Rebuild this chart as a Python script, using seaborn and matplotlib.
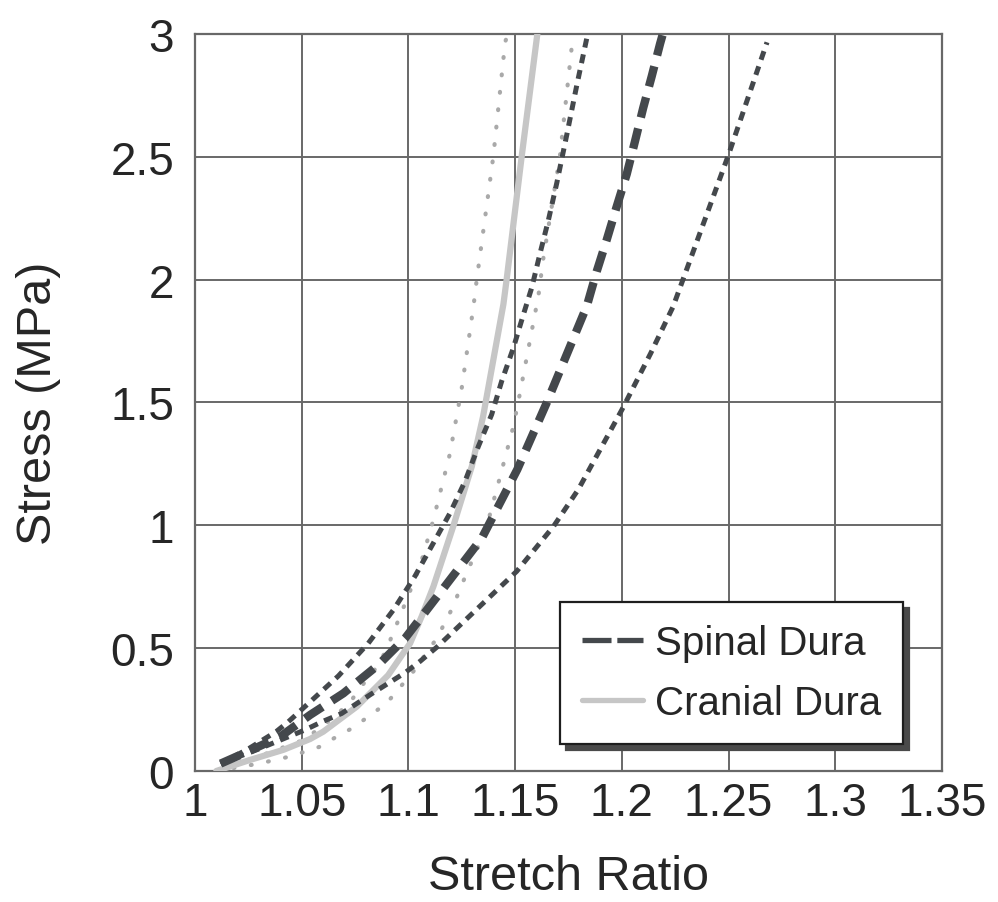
import matplotlib
matplotlib.use("Agg")
import matplotlib.pyplot as plt
import seaborn as sns
import pandas as pd
from matplotlib.lines import Line2D

# ---------------- data ----------------
spinal_a_x = [1.012, 1.025, 1.038, 1.0437, 1.0515, 1.0672, 1.0812, 1.093, 1.103,
              1.1195, 1.1265, 1.1328, 1.139, 1.1437, 1.1492, 1.1539, 1.1578,
              1.1617, 1.1656, 1.1695, 1.1742, 1.1789, 1.1836, 1.184]
spinal_a_y = [0.03, 0.09, 0.16, 0.2, 0.262, 0.387, 0.52, 0.656, 0.792,
              1.05, 1.179, 1.322, 1.451, 1.587, 1.723, 1.859, 1.968,
              2.108, 2.243, 2.393, 2.59, 2.792, 2.984, 3.0]

spinal_b_x = [1.012, 1.025, 1.04, 1.0539, 1.0695, 1.0859, 1.0984, 1.113, 1.1344,
              1.151, 1.1648, 1.1836, 1.1882, 1.1929, 1.1976, 1.2023, 1.2062,
              1.21, 1.214, 1.2179, 1.2192]
spinal_b_y = [0.03, 0.08, 0.14, 0.228, 0.316, 0.432, 0.54, 0.705, 0.948,
              1.227, 1.499, 1.893, 2.033, 2.162, 2.298, 2.43, 2.565,
              2.699, 2.828, 2.96, 3.0]

spinal_c_x = [1.012, 1.03, 1.0515, 1.0594, 1.0687, 1.082, 1.0984, 1.1054, 1.1133,
              1.1507, 1.168, 1.1796, 1.2, 1.2135, 1.224, 1.2498, 1.268]
spinal_c_y = [0.03, 0.09, 0.167, 0.2, 0.234, 0.31, 0.40, 0.446, 0.504,
              0.8125, 0.996, 1.146, 1.47, 1.70, 1.89, 2.504, 2.966]

cranial_d_x = [1.01, 1.0258, 1.0414, 1.0539, 1.0601, 1.0758, 1.0905, 1.1008,
               1.1062, 1.1117, 1.121, 1.1297, 1.135, 1.1445, 1.146, 1.1531, 1.1604]
cranial_d_y = [0.0, 0.045, 0.086, 0.13, 0.16, 0.262, 0.39, 0.52,
               0.629, 0.751, 0.996, 1.24, 1.444, 1.9, 2.0, 2.504, 3.0]

cranial_e_x = [1.01, 1.03, 1.0508, 1.0594, 1.068, 1.0734, 1.0797, 1.086, 1.0898,
               1.096, 1.1054, 1.1117, 1.1195, 1.125, 1.1305, 1.132, 1.1398,
               1.1453, 1.1465]
cranial_e_y = [0.0, 0.06, 0.126, 0.18, 0.242, 0.289, 0.364, 0.432, 0.497,
               0.629, 0.833, 1.023, 1.294, 1.56, 1.893, 2.0, 2.504,
               2.966, 3.0]

cranial_f_x = [1.01, 1.03, 1.045, 1.0586, 1.0664, 1.0734, 1.0812, 1.0898, 1.1023,
               1.1078, 1.1133, 1.121, 1.124, 1.1367, 1.143, 1.1492, 1.1523,
               1.1609, 1.1632, 1.171, 1.1765, 1.177]
cranial_f_y = [0.0, 0.03, 0.06, 0.099, 0.14, 0.173, 0.221, 0.276, 0.405,
               0.473, 0.54, 0.67, 0.738, 0.996, 1.2, 1.404, 1.54,
               1.934, 2.086, 2.504, 2.946, 3.0]

x_ticks = [1.0, 1.05, 1.1, 1.15, 1.2, 1.25, 1.3, 1.35]
x_tick_labels = ["1", "1.05", "1.1", "1.15", "1.2", "1.25", "1.3", "1.35"]
y_ticks = [0, 0.5, 1, 1.5, 2, 2.5, 3]
y_tick_labels = ["0", "0.5", "1", "1.5", "2", "2.5", "3"]
legend_labels = ["Spinal Dura", "Cranial Dura"]

# ---------------- styling ----------------
sns.set_theme(style="white")
plt.rcParams["font.family"] = ["Liberation Sans", "DejaVu Sans"]

DARK = "#44484c"
LIGHT = "#c6c6c6"
DOT = "#a9a9a9"
GRID = "#686868"
TEXT = "#262626"

fig = plt.figure(figsize=(9.98, 9.03), dpi=100)
ax = fig.add_axes([0.1954, 0.1451, 0.7485, 0.8162])


def draw(xs, ys, **kw):
    df = pd.DataFrame({"x": xs, "y": ys})
    sns.lineplot(data=df, x="x", y="y", ax=ax, sort=False, estimator=None,
                 legend=False, **kw)


# cranial (light) curves
draw(cranial_e_x, cranial_e_y, color=DOT, lw=3.0,
     linestyle=(0, (0.2, 4.0)), dash_capstyle="round", zorder=3)
draw(cranial_f_x, cranial_f_y, color=DOT, lw=3.0,
     linestyle=(0, (0.2, 4.0)), dash_capstyle="round", zorder=3)
draw(cranial_d_x, cranial_d_y, color=LIGHT, lw=4.5, zorder=3)

# spinal (dark) curves
draw(spinal_a_x, spinal_a_y, color=DARK, lw=3.6,
     linestyle=(0, (1.8, 1.4)), dash_capstyle="butt", zorder=4)
draw(spinal_c_x, spinal_c_y, color=DARK, lw=3.6,
     linestyle=(0, (1.8, 1.4)), dash_capstyle="butt", zorder=4)
draw(spinal_b_x, spinal_b_y, color=DARK, lw=6.0,
     linestyle=(0, (2.5, 1.35)), dash_capstyle="butt", zorder=4)

ax.set_xlim(1.0, 1.35)
ax.set_ylim(0, 3)
ax.set_xticks(x_ticks)
ax.set_xticklabels(x_tick_labels)
ax.set_yticks(y_ticks)
ax.set_yticklabels(y_tick_labels)
ax.tick_params(axis="both", length=0, labelsize=33, colors=TEXT)
ax.tick_params(axis="x", pad=7)
ax.tick_params(axis="y", pad=15)

ax.set_axisbelow(True)
ax.grid(True, color=GRID, lw=1.4)
for sp in ax.spines.values():
    sp.set_color(GRID)
    sp.set_linewidth(1.6)

ax.set_xlabel("Stretch Ratio", fontsize=35, color=TEXT)
ax.set_ylabel("Stress (MPa)", fontsize=35, color=TEXT)
ax.xaxis.set_label_coords(0.5, -0.112)
ax.yaxis.set_label_coords(-0.18, 0.5)

handles = [
    Line2D([], [], color=DARK, lw=3.8, linestyle=(0, (5.5, 1.1))),
    Line2D([], [], color=LIGHT, lw=3.8),
]
leg = ax.legend(handles, legend_labels, loc="lower right",
                bbox_to_anchor=(0.948, 0.0366), bbox_transform=ax.transAxes,
                borderaxespad=0, fontsize=29, frameon=True, fancybox=False,
                edgecolor="#1e1e1e", framealpha=1,
                shadow={"ox": 4.5, "oy": -4.5, "color": "#4a4a4a", "alpha": 1},
                handlelength=1.5, handletextpad=0.3, borderpad=0.55,
                labelspacing=0.55)
leg.get_frame().set_linewidth(1.6)
for t in leg.get_texts():
    t.set_color(TEXT)

fig.savefig("out.png", dpi=100)
